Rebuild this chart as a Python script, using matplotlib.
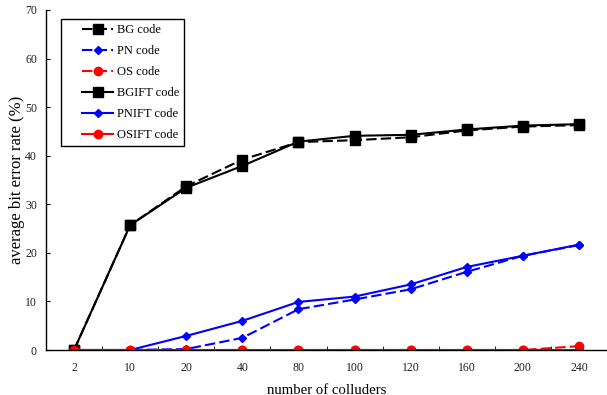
import numpy as np
import matplotlib
matplotlib.use('Agg')
import matplotlib.pyplot as plt
from matplotlib.ticker import FixedLocator
from matplotlib.legend_handler import HandlerLine2D

plt.rcParams['font.family'] = ['Liberation Serif', 'DejaVu Serif']

colluders = ['2', '10', '20', '40', '80', '100', '120', '160', '200', '240']

bg = [0.0, 25.7, 33.7, 39.2, 42.8, 43.2, 43.8, 45.2, 46.0, 46.3]
pn = [0.0, 0.0, 0.2, 2.5, 8.4, 10.4, 12.5, 16.1, 19.4, 21.6]
os_ = [0.0, 0.0, 0.0, 0.0, 0.0, 0.0, 0.0, 0.0, 0.0, 0.8]
bgift = [0.0, 25.7, 33.4, 37.9, 42.9, 44.1, 44.3, 45.4, 46.2, 46.5]
pnift = [0.0, 0.0, 2.9, 6.0, 9.9, 11.0, 13.5, 17.1, 19.4, 21.7]
osift = [0.0, 0.0, 0.0, 0.0, 0.0, 0.0, 0.0, 0.0, 0.0, 0.0]


class ShiftedHandler(HandlerLine2D):
    # excel style legend: handle starts a bit in from the frame
    def create_artists(self, legend, orig_handle, xdescent, ydescent, width, height, fontsize, trans):
        off = 16.0 * 72 / 100
        return super().create_artists(legend, orig_handle, xdescent - off, ydescent,
                                      width - off, height, fontsize, trans)


xx = np.arange(len(colluders))
dash = (0, (5, 2))

fig = plt.figure(figsize=(6.07, 3.95), dpi=100)
ax = fig.add_axes([0.0758, 0.1139, 0.9242, 0.8608])

ax.plot(xx, bg, color='k', ls=dash, lw=1.5, marker='s', ms=6.5, label='BG code')
ax.plot(xx, pn, color='b', ls=dash, lw=1.5, marker='D', ms=4.5, label='PN code')
ax.plot(xx, os_, color='r', ls=dash, lw=1.5, marker='o', ms=6, label='OS code')
ax.plot(xx, bgift, color='k', ls='-', lw=1.5, marker='s', ms=6.5, label='BGIFT code')
ax.plot(xx, pnift, color='b', ls='-', lw=1.5, marker='D', ms=4.5, label='PNIFT code')
ax.plot(xx, osift, color='r', ls='-', lw=1.5, marker='o', ms=6, label='OSIFT code')

ax.set_xlim(-0.5, len(colluders) - 0.5)
ax.set_ylim(0, 70)
ax.set_yticks(np.arange(0, 71, 10))
ax.set_xticks(xx)
ax.set_xticklabels(colluders)
ax.xaxis.set_minor_locator(FixedLocator(xx[:-1] + 0.5))
ax.tick_params(axis='x', which='major', length=0, labelsize=8.5, pad=8.5)
ax.tick_params(axis='x', which='minor', length=3, direction='in')
ax.tick_params(axis='y', length=3, direction='in', labelsize=8.5, pad=6.5)
ax.tick_params(colors='k', which='both', labelcolor='#222222')

for s in ['top', 'right']:
    ax.spines[s].set_visible(False)
for s in ['left', 'bottom']:
    ax.spines[s].set_linewidth(1.0)

ax.set_xlabel('number of colluders', fontsize=10.6, labelpad=7)
ax.set_ylabel('average bit error rate (%)', fontsize=12, labelpad=0)

leg = ax.legend(loc='upper left', bbox_to_anchor=(0.027, 0.974), borderaxespad=0,
                fontsize=9, handlelength=3.7, handletextpad=0.32, fancybox=False,
                framealpha=1, edgecolor='k', labelspacing=0.72, borderpad=0.42,
                handler_map={matplotlib.lines.Line2D: ShiftedHandler()})
leg.get_frame().set_linewidth(1.0)

plt.savefig('out.png', dpi=100)
